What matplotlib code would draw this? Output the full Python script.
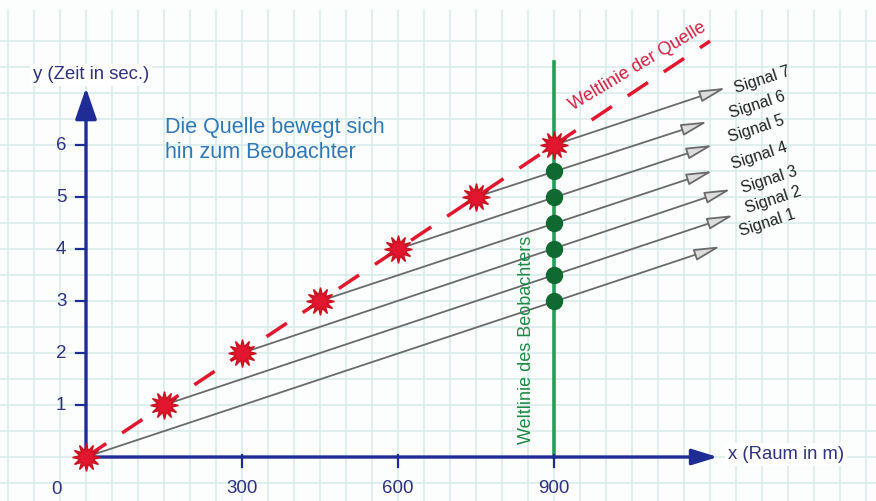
import numpy as np
import matplotlib.pyplot as plt

plt.rcParams['font.family'] = ['Liberation Sans', 'DejaVu Sans']

# --- data (x in m, t in s)
src_x = [0, 150, 300, 450, 600, 750, 900]
src_t = [0, 1, 2, 3, 4, 5, 6]
quelle_x = [0, 1200]
quelle_t = [0, 8]
obs_x = 900
obs_t = [3.0, 3.5, 4.0, 4.5, 5.0, 5.5]
obs_top = 7.6
sig_end_x = [1220, 1245, 1240, 1205, 1205, 1195, 1230]
sig_end_t = [4.05, 4.65, 5.15, 5.5, 6.0, 6.45, 7.1]
sig_labels = ['Signal 1', 'Signal 2', 'Signal 3', 'Signal 4', 'Signal 5', 'Signal 6', 'Signal 7']
sig_lab_x = [1311, 1321, 1313, 1294, 1288, 1290, 1300]
sig_lab_t = [4.5, 4.94, 5.33, 5.79, 6.31, 6.77, 7.25]
x_ticks = [300, 600, 900]
y_ticks = [1, 2, 3, 4, 5, 6]

navy = '#1f2c96'
lab_c = '#2e317e'
grid_c = '#d6ecea'
red = '#e2162e'

fig = plt.figure(figsize=(8.76, 5.01), dpi=100, facecolor='#fcfdfd')
ax = fig.add_axes([0, 0, 1, 1])
ax.set_xlim(-165.4, 1519.2)
ax.set_ylim(-0.846, 8.79)
ax.axis('off')

# graph paper
for gx in np.arange(-150, 1520, 50):
    ax.plot([gx, gx], [-0.9, 8.6], color=grid_c, lw=1.1, zorder=0)
for gy in np.arange(-0.5, 8.01, 0.5):
    ax.plot([-170, 1520], [gy, gy], color=grid_c, lw=1.1, zorder=0)

# axes with arrows
ax.annotate('', xy=(0, 7.1), xytext=(0, 0),
            arrowprops=dict(arrowstyle='-|>,head_length=1.6,head_width=0.55', color=navy,
                            lw=2.4, shrinkA=0, shrinkB=0, mutation_scale=12), zorder=3)
ax.annotate('', xy=(1215, 0), xytext=(-5, 0),
            arrowprops=dict(arrowstyle='-|>,head_length=1.3,head_width=0.4', color=navy,
                            lw=2.4, shrinkA=0, shrinkB=0, mutation_scale=12), zorder=3)
for xt in x_ticks:
    ax.plot([xt, xt], [-0.19, 0.03], color=navy, lw=1.6, zorder=3)
    ax.text(xt, -0.6, str(xt), ha='center', va='center', fontsize=13.5, color=lab_c)
ax.text(-56, -0.62, '0', ha='center', va='center', fontsize=13.5, color=lab_c)
for yt in y_ticks:
    ax.plot([-19, 0], [yt, yt], color=navy, lw=1.6, zorder=3)
    ax.text(-48, yt, str(yt), ha='center', va='center', fontsize=13.5, color=lab_c)

ax.text(-102, 7.35, 'y (Zeit in sec.)', ha='left', va='center', fontsize=13.3, color=lab_c,
        bbox=dict(facecolor='white', edgecolor='none', pad=2))
ax.text(1235, 0.05, 'x (Raum in m)', ha='left', va='center', fontsize=13.3, color=lab_c,
        bbox=dict(facecolor='white', edgecolor='none', pad=2))

# observer world line
ax.plot([obs_x, obs_x], [0, obs_top], color='#1fa055', lw=2.6, zorder=2)
ax.plot([obs_x] * len(obs_t), obs_t, 'o', color='#0f6a32', ms=11.5, zorder=4)
ax.text(848, 2.25, 'Weltlinie des Beobachters', rotation=90, ha='center', va='center',
        fontsize=13, color='#1e8a45')

# signals
for i in range(len(sig_end_x)):
    ax.annotate('', xy=(sig_end_x[i], sig_end_t[i]), xytext=(src_x[i], src_t[i]),
                arrowprops=dict(arrowstyle='-|>,head_length=1.6,head_width=0.36',
                                edgecolor='#6a6a6a', facecolor='#dcdcdc', lw=1.3,
                                shrinkA=0, shrinkB=0, mutation_scale=10), zorder=2)
    ax.text(sig_lab_x[i], sig_lab_t[i], sig_labels[i], rotation=18, ha='center', va='center',
            fontsize=11.5, color='#222222', rotation_mode='anchor')

# source world line
ax.plot(quelle_x, quelle_t, color=red, lw=2.5, dashes=(7, 5.5), zorder=3)
ax.plot(src_x, src_t, linestyle='none', marker=(12, 1, 0), ms=20, color=red,
        markeredgecolor='#c8101e', zorder=5)
ax.text(1060, 7.52, 'Weltlinie der Quelle', rotation=31, ha='center', va='center',
        fontsize=13, color='#d42040', rotation_mode='anchor')

ax.text(152, 6.1, 'Die Quelle bewegt sich\nhin zum Beobachter', ha='left', va='center',
        fontsize=15.5, color='#2f78b7', linespacing=1.25)

fig.savefig('out.png', dpi=100, facecolor=fig.get_facecolor())
